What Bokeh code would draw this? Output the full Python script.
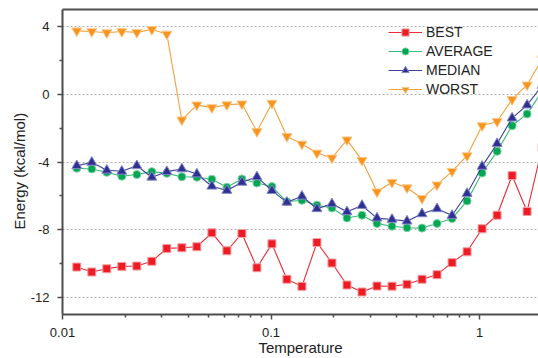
from bokeh.plotting import figure
from bokeh.models import (FixedTicker, LogAxis, Legend, LegendItem, Title)
from bokeh.embed import file_html
from bokeh.resources import INLINE

# ---- data ----
temperature = [0.01171, 0.01382, 0.01631, 0.01925, 0.02272, 0.02682, 0.03165, 0.03736,
               0.04410, 0.05205, 0.06144, 0.07252, 0.08560, 0.1010, 0.1192, 0.1407,
               0.1661, 0.1960, 0.2314, 0.2731, 0.3223, 0.3804, 0.4490, 0.5300,
               0.6255, 0.7383, 0.8714, 1.0285, 1.214, 1.433, 1.691, 1.996]

best = [-10.2, -10.49, -10.3, -10.16, -10.14, -9.86, -9.1, -9.06, -9.0, -8.18, -9.24, -8.22,
        -10.24, -8.83, -10.92, -11.34, -8.75, -9.96, -11.26, -11.67, -11.32, -11.33, -11.22,
        -10.92, -10.65, -9.94, -9.3, -7.94, -7.14, -4.8, -6.92, -3.15]
average = [-4.37, -4.41, -4.61, -4.84, -4.74, -4.57, -4.67, -4.87, -4.9, -5.02, -5.49, -5.0,
           -5.24, -5.45, -6.35, -6.26, -6.55, -6.71, -7.3, -7.14, -7.63, -7.79, -7.88, -7.9,
           -7.63, -7.34, -6.3, -4.65, -3.37, -1.86, -1.16, 0.17]
median = [-4.22, -4.02, -4.49, -4.55, -4.22, -4.9, -4.57, -4.41, -4.71, -5.43, -5.68, -5.2,
          -4.88, -5.69, -6.38, -6.02, -6.76, -6.47, -6.94, -6.57, -7.31, -7.39, -7.49, -7.06,
          -6.76, -7.16, -5.86, -4.26, -2.92, -1.41, -0.64, 0.52]
worst = [3.74, 3.7, 3.63, 3.7, 3.65, 3.82, 3.55, -1.51, -0.63, -0.79, -0.62, -0.57, -2.2,
         -0.53, -2.49, -2.94, -3.47, -3.76, -2.69, -3.9, -5.76, -5.2, -5.52, -6.15, -5.35,
         -4.55, -3.63, -1.86, -1.61, -0.31, 0.55, 2.07]

x_ticks = [0.01, 0.1, 1]
x_tick_labels = ["0.01", "0.1", "1"]
x_minor = [0.02, 0.03, 0.04, 0.05, 0.06, 0.07, 0.08, 0.09,
           0.2, 0.3, 0.4, 0.5, 0.6, 0.7, 0.8, 0.9]
y_ticks = [4, 0, -4, -8, -12]
y_tick_labels = ["4", "0", "-4", "-8", "-12"]
y_minor = [2, -2, -6, -10]

FONT = "Liberation Sans"
AXIS_COL = "#4d4d4d"
TEXT_COL = "#222222"

p = figure(width=538, height=358, x_axis_type="log",
           x_range=(0.01, 1.918), y_range=(-13, 5),
           output_backend="svg", toolbar_location=None,
           min_border_left=62, min_border_right=0, min_border_top=9,
           min_border_bottom=43, background_fill_color="white",
           border_fill_color="white", outline_line_color=None)

# axes
xa = p.xaxis[0]
xa.ticker = FixedTicker(ticks=x_ticks, minor_ticks=x_minor)
xa.major_label_overrides = {t: l for t, l in zip(x_ticks, x_tick_labels)}
ya = p.yaxis[0]
ya.ticker = FixedTicker(ticks=y_ticks, minor_ticks=y_minor)
ya.major_label_overrides = {t: l for t, l in zip(y_ticks, y_tick_labels)}

for ax in (xa, ya):
    ax.axis_line_color = AXIS_COL
    ax.axis_line_width = 2
    ax.major_tick_line_color = AXIS_COL
    ax.minor_tick_line_color = AXIS_COL
    ax.major_tick_line_width = 1.5
    ax.minor_tick_line_width = 1.5
    ax.major_tick_in = 0
    ax.minor_tick_in = 0
    ax.major_tick_out = 5
    ax.minor_tick_out = 3
    ax.major_label_text_font = FONT
    ax.major_label_text_font_size = "13px"
    ax.major_label_text_color = TEXT_COL
    ax.axis_label_text_font = FONT
    ax.axis_label_text_font_size = "15px"
    ax.axis_label_text_font_style = "normal"
    ax.axis_label_text_color = TEXT_COL

xa.axis_label = "Temperature"
xa.major_label_standoff = 8
xa.axis_label_standoff = -1
ya.major_label_standoff = 8

# top border line
top = LogAxis(ticker=FixedTicker(ticks=[]), major_label_text_font_size="0px",
              major_tick_out=0, minor_tick_out=0, axis_line_color=AXIS_COL,
              axis_line_width=2)
p.add_layout(top, "above")

# y axis title (placed slightly below centre, as in the reference)
p.add_layout(Title(text="Energy (kcal/mol)", align="left", offset=85, standoff=0,
                   text_font=FONT, text_font_size="15px", text_font_style="normal",
                   text_color=TEXT_COL), "left")

p.xgrid.visible = False
p.ygrid.ticker = FixedTicker(ticks=y_ticks)
p.ygrid.grid_line_color = "#b3b3b3"
p.ygrid.grid_line_dash = "2 2"
p.ygrid.grid_line_width = 1

series = [
    ("BEST", best, "#ee2a33", "#ed1c24", "#f59ea2", "square", 8),
    ("AVERAGE", average, "#3cb878", "#00a651", "#7dd3a3", "circle", 8),
    ("MEDIAN", median, "#3b3e9a", "#2e3192", "#8587c6", "triangle", 10),
    ("WORST", worst, "#f8a13e", "#f7941d", "#fbc88a", "inverted_triangle", 10),
]
items = []
for name, vals, lc, fc, oc, mk, sz in series:
    r1 = p.line(temperature, vals, line_color=lc, line_width=1.1)
    r2 = p.scatter(temperature, vals, marker=mk, size=sz, fill_color=fc,
                   line_color=oc, line_width=1)
    items.append(LegendItem(label=name, renderers=[r1, r2]))

legend = Legend(items=items, location=(326, 216), orientation="vertical",
                glyph_width=34, glyph_height=18, label_height=18,
                label_standoff=4, spacing=1, padding=0, margin=0,
                border_line_color=None, background_fill_alpha=0,
                label_text_font=FONT, label_text_font_size="14px",
                label_text_color=TEXT_COL)
p.add_layout(legend)

open("out.html", "w").write(file_html(p, INLINE))
